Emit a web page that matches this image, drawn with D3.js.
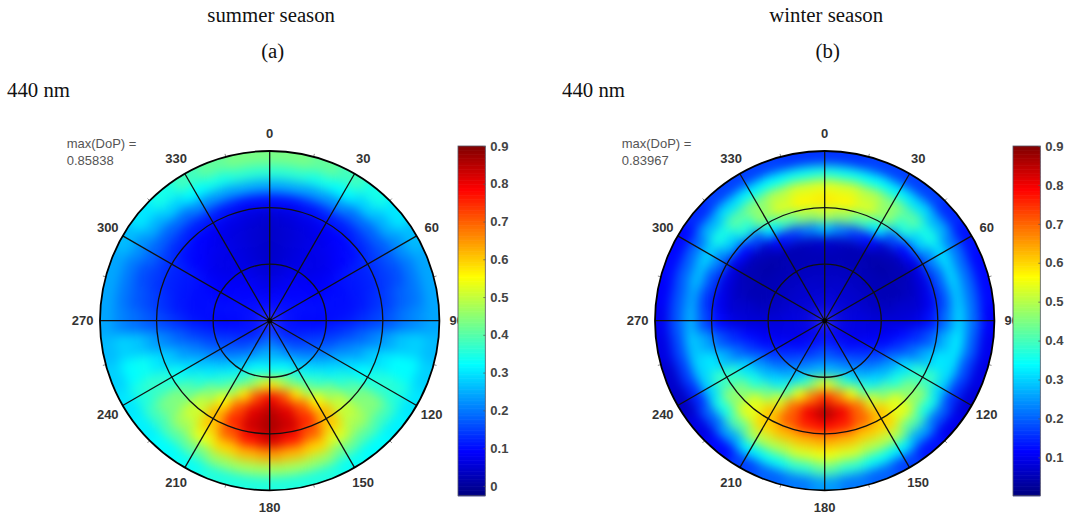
<!DOCTYPE html>
<html><head><meta charset="utf-8">
<script src="https://cdn.jsdelivr.net/npm/d3@7"></script>
<style>html,body{margin:0;padding:0;background:#fff}svg{display:block}</style>
</head><body><svg id="c" width="1066" height="518"></svg>
<script>
const azimuths=[0,10,20,30,40,50,60,70,80,90,100,110,120,130,140,150,160,170,180,190,200,210,220,230,240,250,260,270,280,290,300,310,320,330,340,350];
const ringFractions=[.042,.125,.208,.292,.375,.458,.542,.625,.708,.792,.875,.958];
const angleLabels=[0,30,60,90,120,150,180,210,240,270,300,330];
const minorAngles=[15,45,75,105,135,165,195,225,255,285,315,345];
const ringLines=[1/3,2/3];
const summerTicks=[0,.1,.2,.3,.4,.5,.6,.7,.8,.9];
const winterTicks=[.1,.2,.3,.4,.5,.6,.7,.8,.9];
const summerDomain=[-.026,.9];
const winterDomain=[.0015,.9];
const summerRows=[
[.10,.09,.07,.05,.04,.04,.04,.05,.10,.24,.36,.43],
[.10,.09,.07,.06,.05,.05,.05,.06,.10,.24,.36,.43],
[.10,.09,.08,.07,.06,.06,.06,.07,.11,.23,.34,.41],
[.10,.10,.09,.08,.07,.07,.07,.08,.12,.22,.32,.38],
[.10,.10,.09,.08,.07,.07,.08,.09,.12,.19,.28,.34],
[.10,.10,.09,.09,.08,.08,.09,.10,.13,.18,.25,.30],
[.10,.10,.10,.09,.09,.10,.11,.12,.14,.17,.22,.26],
[.10,.10,.10,.10,.10,.10,.11,.12,.14,.16,.20,.24],
[.10,.10,.10,.10,.10,.10,.11,.13,.15,.18,.20,.24],
[.10,.10,.09,.09,.10,.11,.13,.15,.17,.20,.22,.24],
[.10,.10,.10,.11,.13,.15,.18,.21,.24,.27,.28,.26],
[.10,.10,.12,.14,.16,.20,.23,.27,.30,.32,.32,.28],
[.10,.11,.13,.16,.20,.25,.29,.32,.35,.36,.35,.30],
[.10,.12,.15,.19,.25,.30,.35,.40,.44,.44,.38,.31],
[.10,.13,.17,.23,.30,.36,.44,.50,.50,.47,.40,.32],
[.10,.14,.20,.27,.35,.42,.55,.62,.60,.52,.42,.33],
[.11,.17,.24,.32,.41,.57,.71,.75,.70,.59,.46,.35],
[.12,.19,.25,.33,.50,.72,.81,.83,.77,.62,.47,.35],
[.12,.20,.26,.33,.58,.80,.85,.86,.82,.64,.47,.35],
[.12,.19,.25,.33,.50,.72,.81,.83,.77,.62,.47,.35],
[.11,.17,.24,.32,.41,.57,.71,.75,.70,.59,.46,.35],
[.10,.14,.20,.27,.35,.43,.55,.62,.60,.53,.42,.33],
[.10,.13,.17,.23,.30,.36,.44,.50,.51,.47,.40,.32],
[.10,.12,.15,.19,.25,.30,.35,.40,.44,.43,.38,.31],
[.10,.11,.13,.16,.20,.25,.29,.33,.36,.37,.35,.30],
[.10,.10,.12,.14,.16,.20,.23,.27,.30,.33,.32,.28],
[.10,.10,.10,.11,.13,.15,.18,.21,.24,.27,.28,.26],
[.10,.10,.09,.09,.10,.11,.13,.15,.17,.19,.21,.24],
[.10,.10,.10,.10,.10,.10,.11,.13,.15,.17,.20,.24],
[.10,.10,.10,.10,.10,.10,.11,.12,.14,.16,.20,.24],
[.10,.10,.10,.09,.09,.10,.11,.12,.14,.18,.22,.26],
[.10,.10,.09,.09,.08,.08,.09,.10,.13,.18,.25,.30],
[.10,.10,.09,.08,.07,.07,.08,.09,.12,.19,.28,.34],
[.10,.10,.09,.08,.07,.07,.07,.08,.12,.22,.32,.38],
[.10,.09,.08,.07,.06,.06,.06,.07,.11,.23,.34,.41],
[.10,.09,.07,.06,.05,.05,.05,.06,.10,.24,.36,.43]];
const winterRows=[
[.09,.08,.06,.06,.05,.07,.28,.50,.58,.54,.36,.16],
[.09,.08,.07,.06,.05,.06,.22,.47,.57,.53,.35,.16],
[.09,.08,.07,.06,.05,.05,.16,.41,.53,.50,.34,.17],
[.09,.08,.07,.06,.05,.05,.12,.33,.47,.46,.33,.17],
[.09,.08,.07,.06,.05,.04,.06,.18,.37,.42,.31,.17],
[.09,.08,.07,.06,.05,.04,.05,.12,.29,.36,.27,.15],
[.09,.08,.07,.06,.05,.05,.05,.09,.22,.31,.22,.13],
[.09,.08,.08,.06,.05,.05,.06,.09,.19,.30,.21,.12],
[.09,.08,.08,.07,.06,.07,.07,.10,.18,.29,.21,.12],
[.09,.09,.09,.08,.08,.08,.09,.13,.21,.30,.21,.11],
[.09,.09,.09,.09,.10,.12,.15,.19,.27,.32,.20,.10],
[.09,.09,.09,.10,.12,.16,.21,.27,.32,.31,.18,.09],
[.09,.09,.10,.12,.16,.23,.31,.38,.39,.30,.16,.08],
[.09,.10,.11,.15,.20,.27,.36,.45,.47,.36,.20,.10],
[.09,.10,.13,.18,.24,.31,.43,.54,.54,.42,.26,.13],
[.09,.11,.15,.21,.28,.38,.53,.62,.60,.50,.33,.17],
[.09,.12,.17,.24,.36,.55,.70,.70,.61,.50,.35,.20],
[.09,.13,.19,.27,.47,.68,.80,.76,.63,.53,.38,.22],
[.10,.15,.20,.28,.55,.76,.86,.78,.64,.55,.42,.25],
[.09,.13,.19,.27,.47,.68,.80,.76,.63,.53,.38,.22],
[.09,.12,.17,.24,.36,.55,.70,.71,.62,.50,.35,.20],
[.09,.11,.15,.21,.28,.38,.53,.62,.60,.50,.33,.17],
[.09,.10,.13,.18,.24,.31,.43,.54,.54,.42,.26,.12],
[.09,.10,.11,.15,.20,.27,.36,.45,.47,.36,.20,.09],
[.09,.09,.10,.12,.16,.23,.31,.38,.39,.30,.15,.06],
[.09,.09,.09,.10,.12,.16,.21,.27,.32,.30,.17,.07],
[.09,.09,.09,.09,.10,.12,.15,.19,.26,.29,.18,.09],
[.09,.09,.09,.08,.08,.08,.09,.12,.18,.27,.19,.10],
[.09,.08,.08,.07,.06,.07,.07,.10,.16,.26,.19,.11],
[.09,.08,.08,.06,.05,.05,.06,.09,.18,.28,.20,.12],
[.09,.08,.07,.06,.05,.05,.05,.09,.22,.30,.21,.12],
[.09,.08,.07,.06,.05,.04,.05,.12,.29,.36,.27,.15],
[.09,.08,.07,.06,.05,.04,.06,.18,.37,.42,.31,.17],
[.09,.08,.07,.06,.05,.05,.12,.33,.47,.46,.33,.17],
[.09,.08,.07,.06,.05,.05,.16,.41,.53,.50,.34,.17],
[.09,.08,.07,.06,.05,.06,.22,.47,.57,.53,.35,.16]];
const panels=[
 {title:"summer season",tag:"(a)",wl:"440 nm",maxText:"0.85838",rows:summerRows,ticks:summerTicks,domain:summerDomain,cx:269.7,x0:7,cbX:458,id:"a"},
 {title:"winter season",tag:"(b)",wl:"440 nm",maxText:"0.83967",rows:winterRows,ticks:winterTicks,domain:winterDomain,cx:824.7,x0:562,cbX:1013,id:"b"}
];
const cy=320.7,R=169.7,cbTop=146,cbBottom=495.7,cbW=27.3;
const jet=["#00007f","#0000ff","#00ffff","#ffff00","#ff0000","#7f0000"];
const jetPos=[0,.125,.375,.625,.875,1];
const svg=d3.select("#c");
const defs=svg.append("defs");
defs.append("filter").attr("id","soft").attr("filterUnits","userSpaceOnUse")
 .attr("x",-260).attr("y",-260).attr("width",520).attr("height",520)
 .attr("color-interpolation-filters","sRGB")
 .append("feGaussianBlur").attr("stdDeviation",5.5);
panels.forEach(p=>{
 const color=d3.scaleLinear().domain(jetPos.map(t=>p.domain[0]+t*(p.domain[1]-p.domain[0]))).range(jet).clamp(true);
 const rScale=d3.scaleLinear().domain([0,1]).range([0,R]);
 const angle=d3.scaleLinear().domain([0,360]).range([0,2*Math.PI]);
 const ringStep=ringFractions[1]-ringFractions[0];
 const arc=d3.arc();
 defs.append("clipPath").attr("id","clip"+p.id).append("circle").attr("cx",p.cx).attr("cy",cy).attr("r",R);
 const serif='"Liberation Serif","Times New Roman",serif', sans='"Liberation Sans",Arial,sans-serif';
 svg.append("text").attr("x",p.cx+1.5).attr("y",21.5).attr("text-anchor","middle").attr("font-family",serif).attr("font-size",20.8).attr("fill","#111").text(p.title);
 svg.append("text").attr("x",p.cx+3).attr("y",58).attr("text-anchor","middle").attr("font-family",serif).attr("font-size",20.8).attr("fill","#111").text(p.tag);
 svg.append("text").attr("x",p.x0).attr("y",97).attr("font-family",serif).attr("font-size",20.8).attr("fill","#111").text(p.wl);
 const field=svg.append("g").attr("clip-path",`url(#clip${p.id})`).append("g").attr("filter","url(#soft)").attr("transform",`translate(${p.cx},${cy})`);
 p.rows.forEach((row,i)=>row.forEach((v,j)=>{
  const last=j===row.length-1;
  field.append("path").attr("fill",color(v)).attr("d",arc({
   innerRadius:rScale(Math.max(0,ringFractions[j]-ringStep/2)),
   outerRadius:last?R+30:rScale(ringFractions[j]+ringStep/2)+.5,
   startAngle:angle(azimuths[i]-5.3),endAngle:angle(azimuths[i]+5.3)}));
 }));
 const g=svg.append("g").attr("transform",`translate(${p.cx},${cy})`);
 const pt=(a,r)=>[r*Math.sin(angle(a)),-r*Math.cos(angle(a))];
 ringLines.forEach(f=>g.append("circle").attr("r",rScale(f)).attr("fill","none").attr("stroke","#111").attr("stroke-width",1.3));
 angleLabels.forEach(a=>{const [x,y]=pt(a,R);g.append("line").attr("x2",x).attr("y2",y).attr("stroke","#111").attr("stroke-width",1.3);});
 g.append("circle").attr("r",2.5).attr("fill","#000");
 minorAngles.forEach(a=>{const [x1,y1]=pt(a,R),[x2,y2]=pt(a,R+3);g.append("line").attr("x1",x1).attr("y1",y1).attr("x2",x2).attr("y2",y2).attr("stroke","#888").attr("stroke-width",1);});
 g.append("circle").attr("r",R).attr("fill","none").attr("stroke","#000").attr("stroke-width",1.8);
 angleLabels.forEach(a=>{const [x,y]=pt(a,187);g.append("text").attr("x",x).attr("y",y).attr("dy","0.36em").attr("text-anchor","middle")
   .attr("font-family",sans).attr("font-weight","bold").attr("font-size",13).attr("fill","#333").text(a);});
 const mx=p.cx-203;
 svg.append("text").attr("x",mx).attr("y",148).attr("font-family",sans).attr("font-size",13).attr("fill","#555").text("max(DoP) =");
 svg.append("text").attr("x",mx).attr("y",165).attr("font-family",sans).attr("font-size",13).attr("fill","#555").text(p.maxText);
 // colorbar axes: its white background hides the end of the "90" label
 svg.append("rect").attr("x",p.cbX).attr("y",cbTop).attr("width",40).attr("height",cbBottom-cbTop).attr("fill","#fff");
 const cb=d3.scaleLinear().domain(p.domain).range([cbBottom,cbTop]);
 const levels=d3.range(0,257).map(i=>p.domain[0]+(p.domain[1]-p.domain[0])*i/256);
 svg.append("g").selectAll("rect").data(levels.slice(0,-1)).join("rect")
  .attr("x",p.cbX).attr("width",cbW)
  .attr("y",(d,i)=>cb(levels[i+1])).attr("height",(d,i)=>cb(levels[i])-cb(levels[i+1])+.6)
  .attr("fill",d=>color(d));
 svg.append("rect").attr("x",p.cbX).attr("y",cbTop).attr("width",cbW).attr("height",cbBottom-cbTop).attr("fill","none").attr("stroke","#556").attr("stroke-width",.8);
 const axis=d3.axisRight(cb).tickValues(p.ticks).tickSize(0).tickPadding(5).tickFormat(d3.format(".1~f"));
 const ag=svg.append("g").attr("transform",`translate(${p.cbX+cbW},0)`).call(axis);
 ag.select(".domain").remove();
 ag.selectAll("text").attr("font-family",sans).attr("font-weight","bold").attr("font-size",13).attr("fill","#444");
 ag.selectAll(".tick").append("line").attr("x1",-2).attr("x2",0).attr("stroke","#555").attr("stroke-width",.7);
});
</script></body></html>
